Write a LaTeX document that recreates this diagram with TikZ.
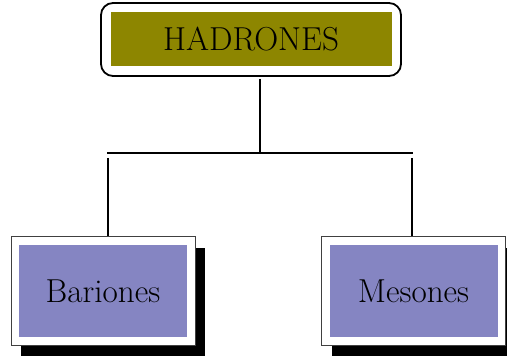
\documentclass[tikz,border=0pt]{standalone}
\usepackage{tikz}
\usetikzlibrary{shadows}

\definecolor{partblue}{RGB}{133,133,194}
\tikzset{
  roundframe/.style={draw, fill=white, rounded corners=6pt, line width=0.9pt,
    minimum width=150pt, minimum height=36.5pt},
  hadbox/.style={fill=olive, minimum width=140.5pt, minimum height=27pt,
    font=\fontsize{16.6pt}{19pt}\selectfont},
  shadeframe/.style={draw=black!75, fill=white, line width=0.5pt,
    minimum width=92pt, minimum height=54pt,
    drop shadow={fill=black, opacity=1, shadow xshift=5pt, shadow yshift=-5.5pt}},
  partbox/.style={fill=partblue, minimum width=84pt, minimum height=46pt,
    font=\fontsize{16.6pt}{19pt}\selectfont},
  link/.style={line width=1pt}
}

\begin{document}
\begin{tikzpicture}[x=0.5pt,y=0.5pt]
		\useasboundingbox (0,0) rectangle (507,358);

		% Hadrones
		\node[roundframe] (hadframe) at (251,318.5) {};
		\node[hadbox] (hadrones) at (hadframe) {HADRONES};

		% Bariones
		\node[shadeframe] (barframe) at (103,67) {};
		\node[partbox] (bariones) at (barframe) {Bariones};

		% Mesones
		\node[shadeframe] (mesframe) at (413.5,67) {};
		\node[partbox] (mesones) at (mesframe) {Mesones};

		% Branches
		\coordinate (split) at (260,205);
		\coordinate (splitL) at (107,205);
		\coordinate (splitR) at (413,205);
		\coordinate (dropL) at (108,200);
		\coordinate (dropR) at (412,200);
		\draw[link] ([yshift=-1pt]split |- hadframe.south) -- (split);
		\draw[link] (splitL) -- (splitR);
		\draw[link] (dropL) -- (dropL |- barframe.north);
		\draw[link] (dropR) -- (dropR |- mesframe.north);
	\end{tikzpicture}
\end{document}
